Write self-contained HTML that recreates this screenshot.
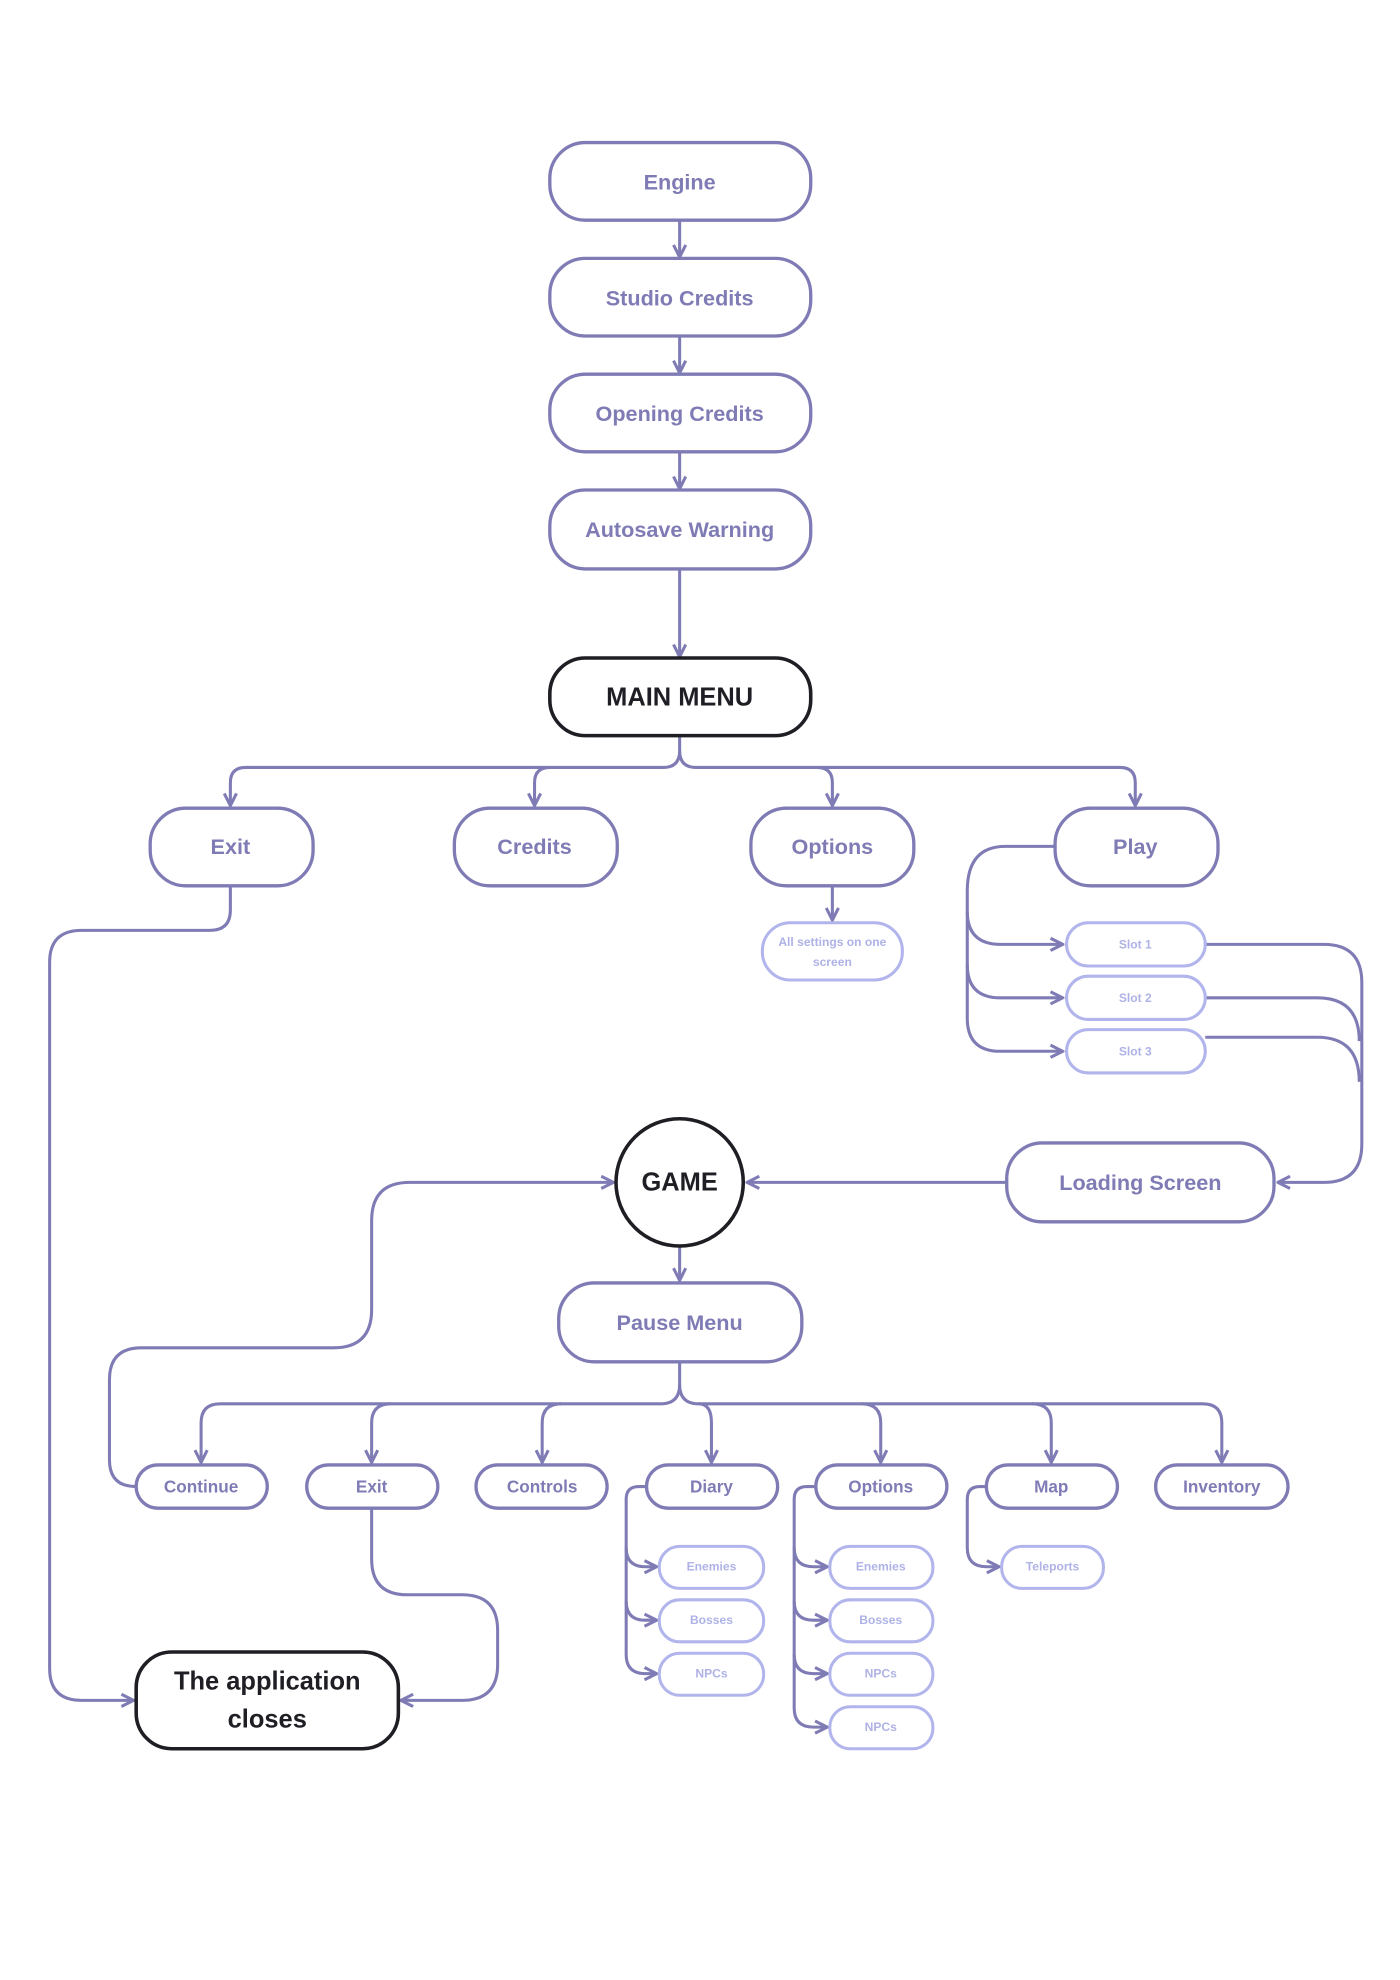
<!DOCTYPE html>
<html><head><meta charset="utf-8"><style>
html,body{margin:0;padding:0;background:#fff;}
svg{display:block;}
text{font-family:"Liberation Sans",sans-serif;font-weight:bold;text-anchor:middle;dominant-baseline:central;}
.n{fill:#fff;stroke:#7f7bb5;stroke-width:2.6;}
.d{fill:#fff;stroke:#1e1e24;stroke-width:2.8;}
.l{fill:#fff;stroke:#b1b5ec;stroke-width:2.4;}
.c{fill:none;stroke:#7f7bb5;stroke-width:2.4;}
.t{fill:#7f7bb5;}
.tl{fill:#aeb2e6;font-size:9.5px;}
.td{fill:#1e1e24;}
</style></head><body>
<svg width="1400" height="1980" viewBox="0 0 1100 1555.7" xmlns="http://www.w3.org/2000/svg">
<defs>
<marker id="a" viewBox="0 0 10 10" refX="9" refY="5" markerWidth="5" markerHeight="5" orient="auto-start-reverse">
<path d="M1,1 L9,5 L1,9" fill="none" stroke="#7f7bb5" stroke-width="2"/>
</marker>
</defs>

<!-- top chain connectors -->
<g class="c" marker-end="url(#a)">
<path d="M534,174 V202"/>
<path d="M534,265 V293"/>
<path d="M534,356 V384"/>
<path d="M534,448 V516"/>
</g>
<!-- main menu branch -->
<g class="c">
<path d="M534,579 V590 Q534,603 521,603 H193 Q181,603 181,615 V633" marker-end="url(#a)"/>
<path d="M432,603 Q420,603 420,615 V633" marker-end="url(#a)"/>
<path d="M534,590 Q534,603 547,603 H880 Q892,603 892,615 V633" marker-end="url(#a)"/>
<path d="M642,603 Q654,603 654,615 V633" marker-end="url(#a)"/>
<path d="M654,697 V723" marker-end="url(#a)"/>
<!-- play to slots -->
<path d="M829,665 H790 Q760,665 760,700 V800 Q760,826 786,826 H835" marker-end="url(#a)"/>
<path d="M760,716 Q760,742 786,742 H835" marker-end="url(#a)"/>
<path d="M760,758 Q760,784 786,784 H835" marker-end="url(#a)"/>
<!-- slots to loading -->
<path d="M947,742 H1040 Q1070,742 1070,772 V899 Q1070,929 1040,929 H1004" marker-end="url(#a)"/>
<path d="M947,784 H1035 Q1068,784 1068,818"/>
<path d="M947,815 H1035 Q1068,815 1068,850"/>
<!-- loading to game -->
<path d="M791,929 H587" marker-end="url(#a)"/>
<path d="M534,980 V1006" marker-end="url(#a)"/>
<!-- exit main to app closes -->
<path d="M181,697 V715 Q181,731 165,731 H64 Q39,731 39,756 V1311 Q39,1336 64,1336 H105" marker-end="url(#a)"/>
<!-- continue loop to game -->
<path d="M107,1168 Q86,1168 86,1147 V1084 Q86,1059 111,1059 H262 Q292,1059 292,1029 V959 Q292,929 322,929 H482" marker-end="url(#a)"/>
<!-- pause branch -->
<path d="M534,1071 V1088 Q534,1103 519,1103 H173 Q158,1103 158,1118 V1149" marker-end="url(#a)"/>
<path d="M307,1103 Q292,1103 292,1118 V1149" marker-end="url(#a)"/>
<path d="M441,1103 Q426,1103 426,1118 V1149" marker-end="url(#a)"/>
<path d="M534,1088 Q534,1103 549,1103 H945 Q960,1103 960,1118 V1149" marker-end="url(#a)"/>
<path d="M549,1103 Q559,1103 559,1118 V1149" marker-end="url(#a)"/>
<path d="M677,1103 Q692,1103 692,1118 V1149" marker-end="url(#a)"/>
<path d="M811,1103 Q826,1103 826,1118 V1149" marker-end="url(#a)"/>
<!-- diary children -->
<path d="M508,1168 H502 Q492,1168 492,1178 V1300 Q492,1315 507,1315 H516" marker-end="url(#a)"/>
<path d="M492,1216 Q492,1231 507,1231 H516" marker-end="url(#a)"/>
<path d="M492,1258 Q492,1273 507,1273 H516" marker-end="url(#a)"/>
<!-- options children -->
<path d="M641,1168 H634 Q624,1168 624,1178 V1342 Q624,1357 639,1357 H650" marker-end="url(#a)"/>
<path d="M624,1216 Q624,1231 639,1231 H650" marker-end="url(#a)"/>
<path d="M624,1258 Q624,1273 639,1273 H650" marker-end="url(#a)"/>
<path d="M624,1300 Q624,1315 639,1315 H650" marker-end="url(#a)"/>
<!-- map children -->
<path d="M775,1168 H770 Q760,1168 760,1178 V1216 Q760,1231 775,1231 H785" marker-end="url(#a)"/>
<!-- exit pause to app closes -->
<path d="M292,1186 V1225 Q292,1253 320,1253 H363 Q391,1253 391,1281 V1308 Q391,1336 363,1336 H315" marker-end="url(#a)"/>
</g>

<!-- top nodes -->
<rect class="n" x="432" y="112" width="205" height="61" rx="28"/><text class="t" x="534" y="143" font-size="17">Engine</text>
<rect class="n" x="432" y="203" width="205" height="61" rx="28"/><text class="t" x="534" y="234" font-size="17">Studio Credits</text>
<rect class="n" x="432" y="294" width="205" height="61" rx="28"/><text class="t" x="534" y="325" font-size="17">Opening Credits</text>
<rect class="n" x="432" y="385" width="205" height="62" rx="28"/><text class="t" x="534" y="416" font-size="17">Autosave Warning</text>
<rect class="d" x="432" y="517" width="205" height="61" rx="28"/><text class="td" x="534" y="548" font-size="20">MAIN MENU</text>

<rect class="n" x="118" y="635" width="128" height="61" rx="28"/><text class="t" x="181" y="665" font-size="17">Exit</text>
<rect class="n" x="357" y="635" width="128" height="61" rx="28"/><text class="t" x="420" y="665" font-size="17">Credits</text>
<rect class="n" x="590" y="635" width="128" height="61" rx="28"/><text class="t" x="654" y="665" font-size="17">Options</text>
<rect class="n" x="829" y="635" width="128" height="61" rx="28"/><text class="t" x="892" y="665" font-size="17">Play</text>

<rect class="l" x="599" y="725" width="110" height="45" rx="22"/>
<text class="tl" x="654" y="740">All settings on one</text><text class="tl" x="654" y="756">screen</text>

<rect class="l" x="838" y="725" width="109" height="34" rx="17"/><text class="tl" x="892" y="742">Slot 1</text>
<rect class="l" x="838" y="767" width="109" height="34" rx="17"/><text class="tl" x="892" y="784">Slot 2</text>
<rect class="l" x="838" y="809" width="109" height="34" rx="17"/><text class="tl" x="892" y="826">Slot 3</text>

<rect class="n" x="791" y="898" width="210" height="62" rx="28"/><text class="t" x="896" y="929" font-size="17">Loading Screen</text>
<circle class="d" cx="534" cy="929" r="50"/><text class="td" x="534" y="929" font-size="20">GAME</text>

<rect class="n" x="439" y="1008" width="191" height="62" rx="28"/><text class="t" x="534" y="1039" font-size="17">Pause Menu</text>

<g font-size="13.5">
<rect class="n" x="107" y="1151" width="103" height="34" rx="17"/><text class="t" x="158" y="1168" font-size="13.5">Continue</text>
<rect class="n" x="241" y="1151" width="103" height="34" rx="17"/><text class="t" x="292" y="1168" font-size="13.5">Exit</text>
<rect class="n" x="374" y="1151" width="103" height="34" rx="17"/><text class="t" x="426" y="1168" font-size="13.5">Controls</text>
<rect class="n" x="508" y="1151" width="103" height="34" rx="17"/><text class="t" x="559" y="1168" font-size="13.5">Diary</text>
<rect class="n" x="641" y="1151" width="103" height="34" rx="17"/><text class="t" x="692" y="1168" font-size="13.5">Options</text>
<rect class="n" x="775" y="1151" width="103" height="34" rx="17"/><text class="t" x="826" y="1168" font-size="13.5">Map</text>
<rect class="n" x="908" y="1151" width="104" height="34" rx="17"/><text class="t" x="960" y="1168" font-size="13.5">Inventory</text>
</g>

<rect class="l" x="518" y="1215" width="82" height="33" rx="16"/><text class="tl" x="559" y="1231">Enemies</text>
<rect class="l" x="518" y="1257" width="82" height="33" rx="16"/><text class="tl" x="559" y="1273">Bosses</text>
<rect class="l" x="518" y="1299" width="82" height="33" rx="16"/><text class="tl" x="559" y="1315">NPCs</text>

<rect class="l" x="652" y="1215" width="81" height="33" rx="16"/><text class="tl" x="692" y="1231">Enemies</text>
<rect class="l" x="652" y="1257" width="81" height="33" rx="16"/><text class="tl" x="692" y="1273">Bosses</text>
<rect class="l" x="652" y="1299" width="81" height="33" rx="16"/><text class="tl" x="692" y="1315">NPCs</text>
<rect class="l" x="652" y="1341" width="81" height="33" rx="16"/><text class="tl" x="692" y="1357">NPCs</text>

<rect class="l" x="787" y="1215" width="80" height="33" rx="16"/><text class="tl" x="827" y="1231">Teleports</text>

<rect class="d" x="107" y="1298" width="206" height="76" rx="28"/>
<text class="td" x="210" y="1321" font-size="20">The application</text>
<text class="td" x="210" y="1351" font-size="20">closes</text>
</svg>
</body></html>
